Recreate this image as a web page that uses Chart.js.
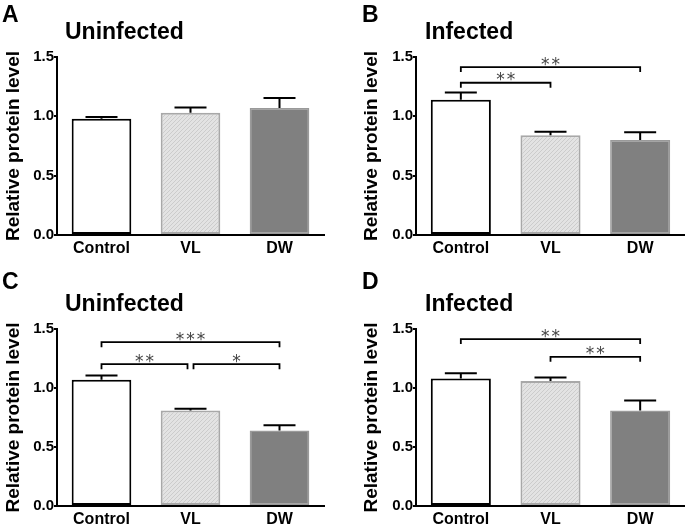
<!DOCTYPE html>
<html>
<head>
<meta charset="utf-8">
<script src="https://cdn.jsdelivr.net/npm/chart.js@4.4.1/dist/chart.umd.min.js"></script>
<style>
  body { margin: 0; background: #fff; width: 685px; height: 527px; position: relative; overflow: hidden; }
  canvas { position: absolute; }
</style>
</head>
<body>
<canvas id="panelA" width="340" height="262" style="left:0;top:0"></canvas>
<canvas id="panelB" width="345" height="262" style="left:340px;top:0"></canvas>
<canvas id="panelC" width="340" height="265" style="left:0;top:262px"></canvas>
<canvas id="panelD" width="345" height="265" style="left:340px;top:262px"></canvas>
<script>
// data
var categories = ['Control', 'VL', 'DW'];
var yTicks = [0, 0.5, 1.0, 1.5];

var meansA = [0.98, 1.03, 1.07];
var semA = [0.015, 0.045, 0.085];
var meansB = [1.14, 0.84, 0.80];
var semB = [0.06, 0.03, 0.065];
var meansC = [1.07, 0.81, 0.64];
var semC = [0.035, 0.015, 0.045];
var meansD = [1.08, 1.06, 0.81];
var semD = [0.045, 0.03, 0.085];

// significance brackets: [from, to, level, stars]
var bracketsA = [];
var bracketsB = [[0, 1, 1.283, '**'], [0, 2, 1.415, '**']];
var bracketsC = [[0, 1, 1.202, '**'], [1, 2, 1.202, '*'], [0, 2, 1.388, '***']];
var bracketsD = [[0, 2, 1.415, '**'], [1, 2, 1.264, '**']];

var FONT = '"Liberation Sans", Arial, sans-serif';

function hatchPattern() {
  var c = document.createElement('canvas');
  c.width = 4; c.height = 4;
  var g = c.getContext('2d');
  g.fillStyle = '#e3e3e3';
  g.fillRect(0, 0, 4, 4);
  g.strokeStyle = '#cccccc';
  g.lineWidth = 1;
  g.beginPath();
  g.moveTo(0, 4); g.lineTo(4, 0);
  g.moveTo(-1, 1); g.lineTo(1, -1);
  g.moveTo(3, 5); g.lineTo(5, 3);
  g.stroke();
  return g.createPattern(c, 'repeat');
}
var hatch = hatchPattern();

var errorBars = {
  id: 'errorBars',
  afterDatasetsDraw(chart) {
    var ctx = chart.ctx;
    var ds = chart.data.datasets[0];
    var y = chart.scales.y;
    ctx.save();
    ctx.strokeStyle = '#000';
    ctx.lineWidth = 2;
    chart.getDatasetMeta(0).data.forEach(function (bar, i) {
      var top = y.getPixelForValue(ds.data[i] + ds.sem[i]);
      ctx.beginPath();
      ctx.moveTo(bar.x, bar.y);
      ctx.lineTo(bar.x, top);
      ctx.moveTo(bar.x - 16, top);
      ctx.lineTo(bar.x + 16, top);
      ctx.stroke();
    });
    ctx.restore();
  }
};

var brackets = {
  id: 'brackets',
  afterDraw(chart, args, opts) {
    var list = opts.list || [];
    var ctx = chart.ctx;
    var x = chart.scales.x, y = chart.scales.y;
    ctx.save();
    ctx.strokeStyle = '#000';
    ctx.lineWidth = 1.8;
    list.forEach(function (b) {
      var x1 = x.getPixelForValue(b[0]);
      var x2 = x.getPixelForValue(b[1]);
      // leave a small gap where two brackets meet on the same level
      list.forEach(function (o) {
        if (o === b || o[2] !== b[2]) return;
        if (o[1] === b[0]) x1 += 3;
        if (o[0] === b[1]) x2 -= 3;
      });
      var ly = y.getPixelForValue(b[2]);
      ctx.beginPath();
      ctx.moveTo(x1, ly + 5);
      ctx.lineTo(x1, ly);
      ctx.lineTo(x2, ly);
      ctx.lineTo(x2, ly + 5);
      ctx.stroke();
      ctx.fillStyle = '#444';
      ctx.font = '17px "DejaVu Sans"';
      ctx.letterSpacing = '2px';
      ctx.textAlign = 'center';
      ctx.textBaseline = 'alphabetic';
      ctx.fillText(b[3], (x1 + x2) / 2 + 1, ly + 2.5);
    });
    ctx.restore();
  }
};

var decor = {
  id: 'decor',
  afterDraw(chart, args, opts) {
    var ctx = chart.ctx;
    ctx.save();
    ctx.fillStyle = '#000';
    ctx.textAlign = 'left';
    ctx.textBaseline = 'alphabetic';
    ctx.font = 'bold 23px ' + FONT;
    ctx.fillText(opts.letter, opts.lx, opts.ly);
    ctx.fillText(opts.title, opts.tx, opts.ty);
    ctx.restore();
  }
};

function makePanel(id, letter, title, means, sem, bracketList, lay) {
  new Chart(document.getElementById(id), {
    type: 'bar',
    data: {
      labels: categories,
      datasets: [{
        data: means,
        sem: sem,
        backgroundColor: ['#ffffff', hatch, '#808080'],
        borderColor: ['#000000', '#a8a8a8', '#9a9a9a'],
        borderWidth: [2, 2, 1.5],
        borderSkipped: false,
        categoryPercentage: 1,
        barPercentage: 0.67
      }]
    },
    options: {
      responsive: false,
      animation: false,
      events: [],
      layout: { padding: { left: lay.padLeft, right: lay.padRight, top: lay.padTop, bottom: 0 } },
      plugins: {
        legend: { display: false },
        tooltip: { enabled: false },
        brackets: { list: bracketList },
        decor: { letter: letter, lx: lay.lx, ly: lay.ly, title: title, tx: lay.tx, ty: lay.ty }
      },
      scales: {
        x: {
          grid: { display: false, drawTicks: false },
          border: { display: true, color: '#000', width: 2 },
          ticks: { color: '#000', padding: 4, font: { family: FONT, size: 16, weight: 'bold' } },
          afterFit: function (s) { s.height = lay.axisH; }
        },
        y: {
          min: 0,
          max: 1.5,
          afterBuildTicks: function (s) { s.ticks = yTicks.map(function (v) { return { value: v }; }); },
          grid: { drawOnChartArea: false, drawTicks: true, tickLength: 3, color: '#000', lineWidth: 2 },
          border: { display: true, color: '#000', width: 2 },
          ticks: {
            color: '#000', padding: 0,
            font: { family: FONT, size: 15, weight: 'bold' },
            callback: function (v) { return v.toFixed(1); }
          },
          title: {
            display: true, text: 'Relative protein level', color: '#000',
            padding: { top: 0, bottom: 0 },
            font: { family: FONT, size: 19, weight: 'bold' }
          },
          afterFit: function (s) { s.width = lay.axisW; }
        }
      }
    },
    plugins: [errorBars, brackets, decor]
  });
}

makePanel('panelA', 'A', 'Uninfected', meansA, semA, bracketsA,
  { padLeft: 2, padRight: 16, padTop: 57, axisW: 55, axisH: 27, lx: 2, ly: 22, tx: 65, ty: 39 });
makePanel('panelB', 'B', 'Infected', meansB, semB, bracketsB,
  { padLeft: 20, padRight: 0, padTop: 57, axisW: 56, axisH: 27, lx: 22, ly: 22, tx: 85, ty: 39 });
makePanel('panelC', 'C', 'Uninfected', meansC, semC, bracketsC,
  { padLeft: 2, padRight: 16, padTop: 67, axisW: 55, axisH: 21, lx: 2, ly: 27, tx: 65, ty: 49 });
makePanel('panelD', 'D', 'Infected', meansD, semD, bracketsD,
  { padLeft: 20, padRight: 0, padTop: 67, axisW: 56, axisH: 21, lx: 22, ly: 27, tx: 85, ty: 49 });
</script>
</body>
</html>
